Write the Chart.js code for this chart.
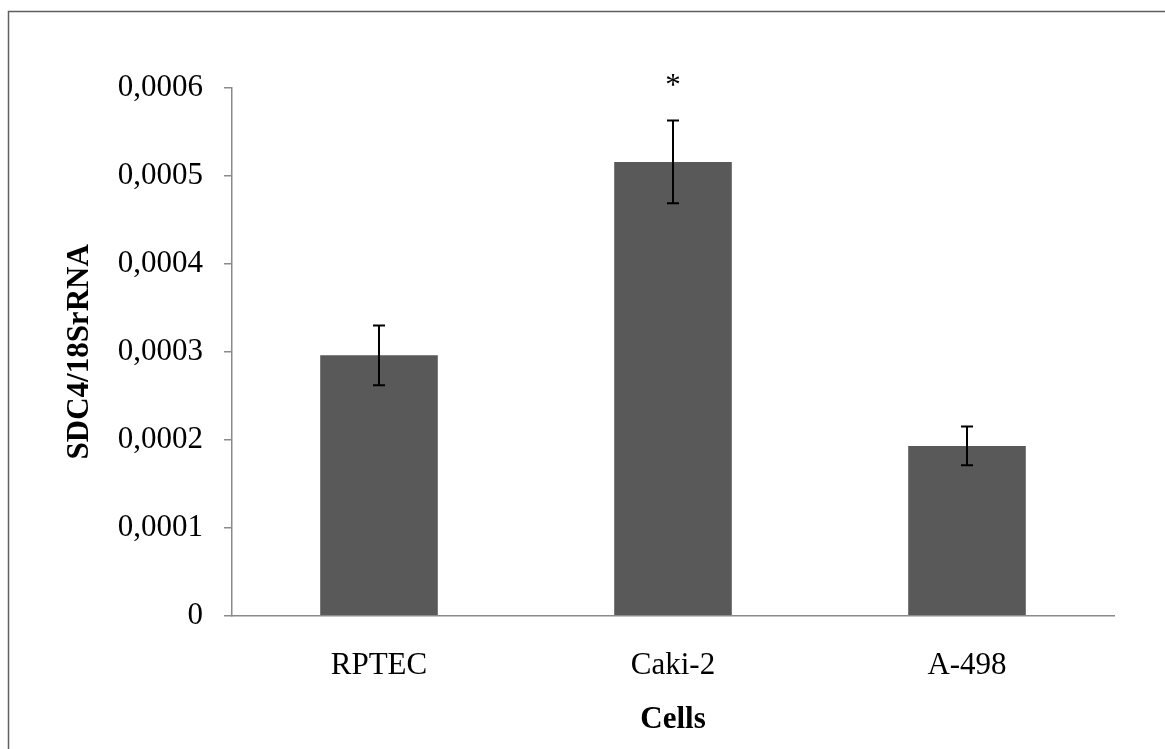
<!DOCTYPE html>
<html>
<head>
<meta charset="utf-8">
<script src="https://cdn.jsdelivr.net/npm/chart.js@4.4.1/dist/chart.umd.min.js"></script>
<style>
  html, body { margin: 0; padding: 0; background: #ffffff; }
  #wrap { width: 1165px; height: 749px; position: relative; }
</style>
</head>
<body>
<div id="wrap"><canvas id="c" width="1165" height="749"></canvas></div>
<script>
// ---- Data ----
const categories = ['RPTEC', 'Caki-2', 'A-498'];
const values = [0.000296, 0.000516, 0.000193];
const errors = [0.000034, 0.000047, 0.000022];
const significance = ['', '*', ''];
const yTicks = [0, 0.0001, 0.0002, 0.0003, 0.0004, 0.0005, 0.0006];
const yTickLabels = ['0', '0,0001', '0,0002', '0,0003', '0,0004', '0,0005', '0,0006'];
const yTitle = 'SDC4/18SrRNA';
const xTitle = 'Cells';

const FONT = 'Liberation Serif, Times New Roman, serif';

const errorBarPlugin = {
  id: 'errorBars',
  afterDatasetsDraw(chart) {
    const ctx = chart.ctx;
    const meta = chart.getDatasetMeta(0);
    const y = chart.scales.y;
    ctx.save();
    ctx.strokeStyle = '#000000';
    ctx.lineWidth = 2;
    meta.data.forEach((bar, i) => {
      const x = bar.x;
      const yTop = y.getPixelForValue(values[i] + errors[i]);
      const yBot = y.getPixelForValue(values[i] - errors[i]);
      ctx.beginPath();
      ctx.moveTo(x, yTop); ctx.lineTo(x, yBot);
      ctx.moveTo(x - 6, yTop); ctx.lineTo(x + 6, yTop);
      ctx.moveTo(x - 6, yBot); ctx.lineTo(x + 6, yBot);
      ctx.stroke();
      if (significance[i]) {
        ctx.fillStyle = '#000000';
        ctx.font = '31px ' + FONT;
        ctx.textAlign = 'center';
        ctx.textBaseline = 'alphabetic';
        ctx.fillText(significance[i], x, yTop - 26);
      }
    });
    ctx.restore();
  }
};

const frameBorderPlugin = {
  id: 'frameBorder',
  beforeDraw(chart) {
    const ctx = chart.ctx;
    ctx.save();
    ctx.fillStyle = '#ffffff';
    ctx.fillRect(0, 0, chart.width, chart.height);
    ctx.strokeStyle = '#5f5f5f';
    ctx.lineWidth = 1.5;
    ctx.beginPath();
    ctx.moveTo(8.5, chart.height + 2);
    ctx.lineTo(8.5, 11.5);
    ctx.lineTo(chart.width + 2, 11.5);
    ctx.stroke();
    ctx.restore();
  }
};

new Chart(document.getElementById('c'), {
  type: 'bar',
  data: {
    labels: categories,
    datasets: [{
      data: values,
      backgroundColor: '#595959',
      borderWidth: 0,
      categoryPercentage: 1.0,
      barPercentage: 0.4
    }]
  },
  options: {
    responsive: false,
    animation: false,
    devicePixelRatio: 1,
    layout: { padding: { left: 0, right: 51, top: 88, bottom: 0 } },
    plugins: { legend: { display: false }, tooltip: { enabled: false } },
    scales: {
      x: {
        grid: { display: false, drawTicks: false },
        border: { display: true, color: '#8a8a8a', width: 1.5 },
        ticks: { color: '#000000', font: { family: FONT, size: 31 }, padding: 32 },
        title: { display: true, text: xTitle, color: '#000000',
                 font: { family: FONT, size: 31, weight: 'bold' }, padding: { top: 0, bottom: 10 } },
        afterFit(scale) { scale.height = 133.3; }
      },
      y: {
        min: 0, max: 0.0006,
        afterBuildTicks(scale) { scale.ticks = yTicks.map(v => ({ value: v })); },
        grid: { display: true, drawOnChartArea: false, drawTicks: true, tickLength: 8, color: '#8a8a8a', lineWidth: 1.5 },
        border: { display: true, color: '#8a8a8a', width: 1.5 },
        ticks: {
          color: '#000000', font: { family: FONT, size: 31 }, padding: 21,
          callback(value) { const i = yTicks.indexOf(value); return i >= 0 ? yTickLabels[i] : ''; }
        },
        title: { display: true, text: yTitle, color: '#000000',
                 font: { family: FONT, size: 31, weight: 'bold' }, padding: { top: 61, bottom: 0 } },
        afterFit(scale) { scale.width = 232; }
      }
    }
  },
  plugins: [frameBorderPlugin, errorBarPlugin]
});
</script>
</body>
</html>
